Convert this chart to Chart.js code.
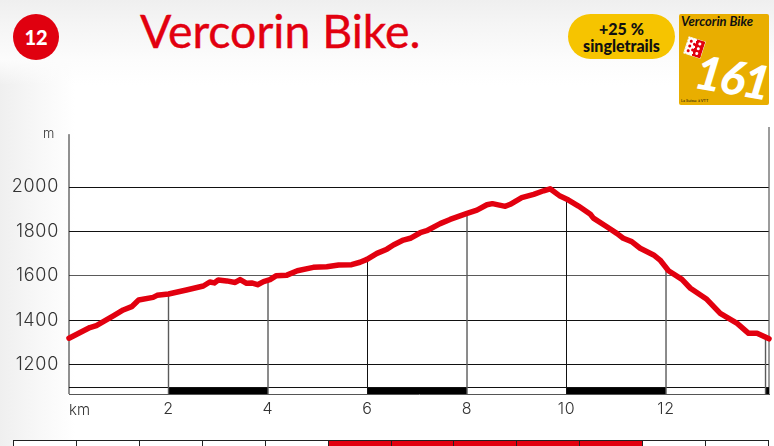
<!DOCTYPE html>
<html lang="fr">
<head>
<meta charset="utf-8">
<title>Vercorin Bike</title>
<script src="https://cdn.jsdelivr.net/npm/chart.js@4/dist/chart.umd.min.js"></script>
<style>
html,body{margin:0;padding:0;width:774px;height:446px;overflow:hidden;background:#fff}
body{position:relative;font-family:Lato,sans-serif;
background:
 linear-gradient(to bottom,#efefef 0,#f5f5f5 25px,#fcfcfc 60px,rgba(255,255,255,0) 85px),
 linear-gradient(to right,#efefef 0,#f8f8f8 40px,rgba(255,255,255,0) 75px),#fff}
canvas{position:absolute;left:0;top:0}
.abs{position:absolute;white-space:nowrap}
#badge{left:13px;top:14px;width:46px;height:46px;border-radius:50%;background:#e0000f;color:#fff;font-weight:900;font-size:20px;line-height:47px;text-align:center}
#title{left:140px;top:2px;font-size:46.4px;line-height:56px;font-weight:400;color:#e2000f;-webkit-text-stroke:.4px #e2000f}
#pill{left:568px;top:14px;width:107px;height:45px;border-radius:23px;background:#f6c400;color:#111;font-weight:900;font-size:16px;line-height:17px;text-align:center;padding-top:6px;box-sizing:border-box}
#logo{left:679px;top:14px;width:90px;height:91px;border-radius:2px;background:#e9ae00;overflow:hidden}
#logoName{left:2px;top:0;font:italic 700 13px/15px Lato,sans-serif;color:#111}
#logoNum{left:17px;top:26px;font:italic 900 47px/60px Lato,sans-serif;color:#fff;transform:rotate(10deg);transform-origin:0 50%;letter-spacing:-2px}
#logoSmall{left:2px;top:84px;font-size:4px;line-height:5px;color:#111}
#flag{left:7px;top:25px;width:17px;height:17px;transform:rotate(18deg);background:linear-gradient(to right,#fff 50%,#e2000f 50%);box-shadow:0 0 0 .5px #eee}
#flag i{position:absolute;width:3px;height:3px;border-radius:50%}
.unit{color:#333;font-family:Inter,Lato,sans-serif;font-weight:300;line-height:16px}
#season{left:13px;top:440px;width:756px;height:6px;display:flex;border-left:1px solid #222;box-sizing:border-box}
#season div{flex:1;box-sizing:border-box;border-top:1px solid #222;border-right:1px solid #222;height:6px;background:#fff}
#season div.on{background:#e2000f}
</style>
</head>
<body>
<div class="abs" id="badge">12</div>
<div class="abs" id="title">Vercorin Bike.</div>
<div class="abs" id="pill">+25 %<br>singletrails</div>
<div class="abs" id="logo">
  <div class="abs" id="logoName">Vercorin Bike</div>
  <div class="abs" id="flag"></div>
  <div class="abs" id="logoNum">161</div>
  <div class="abs" id="logoSmall">La Suisse à VTT</div>
</div>
<canvas id="c" width="774" height="446"></canvas>
<div class="abs unit" style="left:43px;top:125px;font-size:13px">m</div>
<div class="abs unit" style="left:69px;top:402px;font-size:15px">km</div>
<div class="abs" id="season"></div>
<script>
const distanceKm = [0,0.42,0.55,0.89,1.09,1.26,1.40,1.69,1.77,2.0,2.36,2.70,2.83,2.92,3.0,3.17,3.34,3.44,3.57,3.67,3.79,3.91,4.04,4.16,4.38,4.59,4.91,5.18,5.42,5.68,5.85,5.99,6.19,6.39,6.52,6.72,6.86,7.06,7.19,7.46,7.66,8.0,8.2,8.4,8.51,8.77,8.87,9.1,9.34,9.54,9.67,9.87,10.04,10.24,10.48,10.54,10.81,11.01,11.14,11.31,11.48,11.75,11.88,12.05,12.32,12.49,12.82,13.09,13.43,13.66,13.83,14.07];
const elevationM = [1319,1367,1376,1420,1446,1461,1491,1503,1512,1518,1536,1554,1572,1568,1581,1577,1570,1583,1566,1568,1560,1574,1583,1600,1603,1623,1638,1641,1649,1650,1661,1674,1701,1720,1739,1761,1769,1794,1803,1835,1854,1881,1896,1920,1925,1913,1922,1952,1967,1983,1992,1959,1941,1914,1877,1860,1821,1791,1769,1754,1724,1694,1671,1623,1584,1544,1494,1431,1386,1341,1341,1316];
const elevationTicks = [1200,1400,1600,1800,2000];
const distanceTicks = [2,4,6,8,10,12];
const dropKm = [2,4,6,8,10,12,14];
const dropElevation = [1518,1583,1674,1881,1941,1623,1335];
const blackBandKm = [[2,4],[6,8],[10,12],[14,14.07]];
const seasonOpen = [0,0,0,0,0,1,1,1,1,1,0,0];
const yMin = 1067.6, yMax = 2270.3, xMax = 14.07, axisTop = 2238, bandY = 1081, bandTopY = 1096.8;

const flag = document.getElementById('flag');
[[2,2],[2,7],[2,12],[6,4],[6,10],[11,2],[11,7],[11,12]].forEach((p,i)=>{
  const s=document.createElement('i');
  s.style.left=p[0]+'px';s.style.top=p[1]+'px';
  s.style.background=p[0]<8?'#e2000f':'#fff';
  flag.appendChild(s);
});
const season=document.getElementById('season');
seasonOpen.forEach(v=>{const d=document.createElement('div');if(v)d.className='on';season.appendChild(d);});

const GREY = '#5a5a5a', DARK = '#111';
const datasets = [{
  label:'Profile',
  data:distanceKm.map((x,i)=>({x,y:elevationM[i]})),
  borderColor:'#e2000f',borderWidth:5.5,borderCapStyle:'round',borderJoinStyle:'round',
  pointRadius:0,tension:0,clip:false
}];
dropKm.forEach((km,i)=>{
  const dark = km===6||km===10;
  datasets.push({
    label:'drop '+km,
    data:[{x:km,y:yMin},{x:km,y:dropElevation[i]}],
    borderColor:dark?DARK:GREY,borderWidth:dark?1:1.4,pointRadius:0
  });
});
datasets.push({label:'band',
  data:blackBandKm.flatMap(b=>[{x:b[0],y:bandY},{x:b[1],y:bandY},{x:b[1],y:null}]),
  borderColor:'#000',borderWidth:6,pointRadius:0,spanGaps:false,borderCapStyle:'butt'});
datasets.push({label:'bandTop',data:[{x:0,y:bandTopY},{x:xMax,y:bandTopY}],borderColor:DARK,borderWidth:1,pointRadius:0});
datasets.push({label:'left',data:[{x:0,y:yMin},{x:0,y:axisTop}],borderColor:'#222',borderWidth:1,pointRadius:0,clip:false});
datasets.push({label:'right',data:[{x:xMax,y:yMin},{x:xMax,y:yMax}],borderColor:GREY,borderWidth:1.2,pointRadius:0,clip:false});

const spacing = {id:'spacing',beforeDraw(chart){chart.ctx.letterSpacing='0.7px';}};

new Chart(document.getElementById('c'),{
  type:'line',
  data:{datasets},
  plugins:[spacing],
  options:{
    responsive:false,animation:false,
    layout:{padding:{top:127,right:5,left:0,bottom:0}},
    plugins:{legend:{display:false},tooltip:{enabled:false},title:{display:false}},
    scales:{
      x:{type:'linear',min:0,max:xMax,
        afterBuildTicks:s=>{s.ticks=distanceTicks.map(value=>({value}));},
        afterFit:s=>{s.height=52;},
        grid:{display:false,drawTicks:false},
        border:{display:true,color:'#555',width:1},
        ticks:{color:'#333',font:{family:'Inter',size:16,weight:'300'},padding:6,maxRotation:0,autoSkip:false}
      },
      y:{type:'linear',min:yMin,max:yMax,
        afterBuildTicks:s=>{s.ticks=elevationTicks.map(value=>({value}));},
        afterFit:s=>{s.width=69;},
        grid:{drawTicks:false,color:c=>c.tick&&c.tick.value===1600?GREY:DARK,lineWidth:1},
        border:{display:false},
        ticks:{color:'#333',font:{family:'Inter',size:18,weight:'300'},padding:10,autoSkip:false,callback:v=>String(v)}
      }
    }
  }
});
</script>
</body>
</html>
